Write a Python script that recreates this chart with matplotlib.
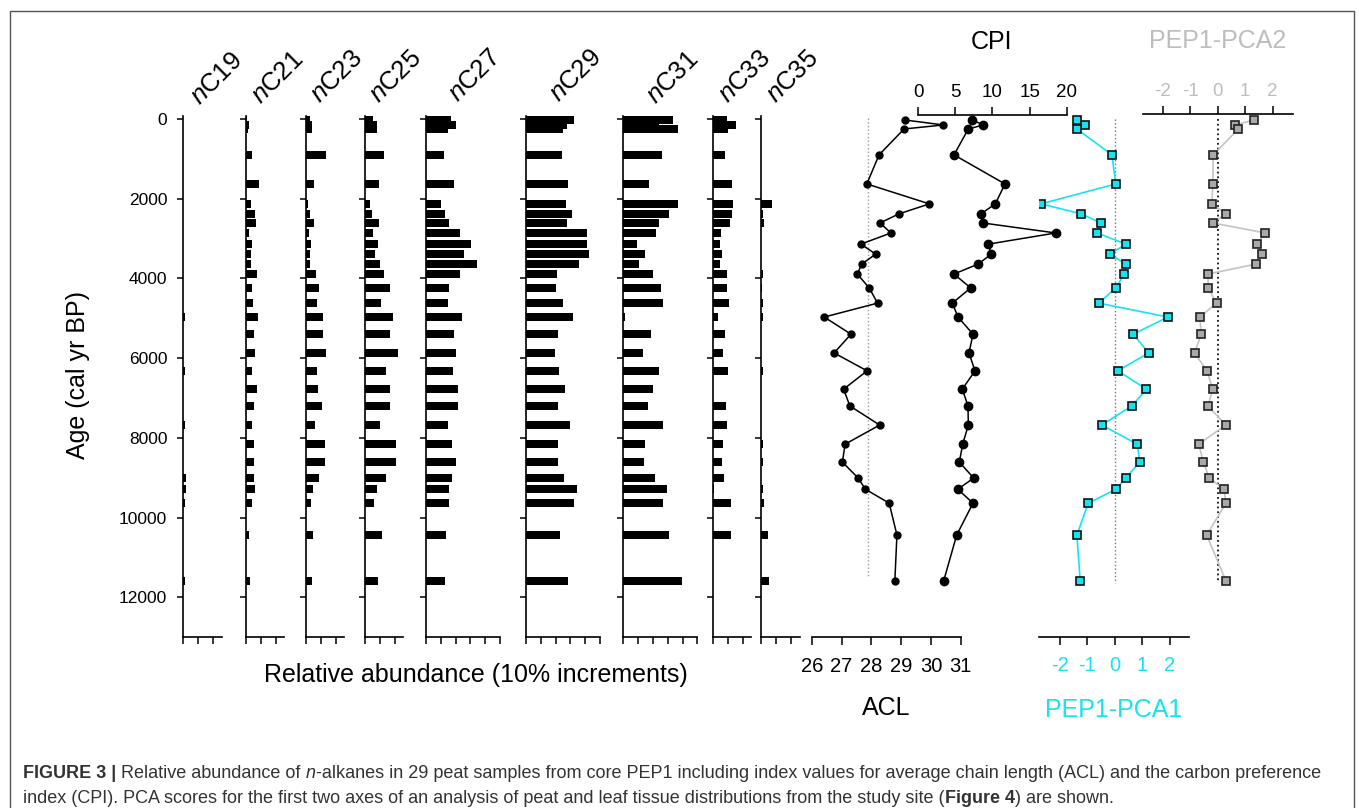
import matplotlib
matplotlib.use('Agg')
import matplotlib.pyplot as plt
from matplotlib import font_manager
from matplotlib.patches import Rectangle

plt.rcParams['font.family'] = 'Liberation Sans'
plt.rcParams['mathtext.fontset'] = 'custom'
plt.rcParams['mathtext.rm'] = 'Liberation Sans'
plt.rcParams['mathtext.it'] = 'Liberation Sans:italic'
plt.rcParams['axes.unicode_minus'] = False

# ---- data ----
age = [25, 150, 250, 900, 1630, 2130, 2380, 2610, 2860, 3140, 3390, 3640, 3890, 4240,
       4620, 4970, 5400, 5870, 6320, 6780, 7200, 7680, 8160, 8610, 9010, 9290, 9640,
       10440, 11590]

nC19 = [0, 0, 0, 0, 0, 0, 0, 0, 0, 0, 0, 0, 0, 0, 0, 1.2, 0, 0, 1.0, 0, 0, 1.0, 0, 0,
        1.5, 1.5, 1.0, 0, 1.0]
nC21 = [0.5, 2.0, 1.0, 4.0, 8.7, 3.0, 6.0, 6.7, 2.2, 4.0, 3.0, 3.0, 7.5, 3.8, 4.4, 7.8,
        5.5, 6.0, 4.2, 7.0, 5.5, 4.0, 5.5, 5.0, 5.0, 6.0, 3.8, 2.2, 2.7]
nC23 = [3.0, 4.0, 4.2, 13.8, 5.8, 1.5, 3.0, 5.8, 2.0, 3.8, 2.7, 3.0, 6.7, 8.7, 7.3, 11.8,
        11.3, 13.3, 7.8, 8.4, 10.7, 6.4, 12.9, 12.7, 8.7, 4.9, 3.8, 4.9, 4.2]
nC25 = [5.8, 8.0, 8.0, 12.9, 9.6, 3.8, 4.7, 9.3, 5.3, 8.7, 7.1, 10.0, 13.1, 16.7, 11.1,
        19.1, 17.1, 22.0, 14.4, 16.9, 16.9, 10.2, 21.1, 21.1, 14.2, 8.2, 6.2, 11.8, 8.9]
nC27 = [16.7, 20.0, 14.9, 12.2, 19.1, 9.8, 12.7, 15.3, 23.3, 30.4, 26.0, 34.4, 22.9, 15.3,
        15.1, 24.4, 19.1, 20.4, 18.4, 21.3, 21.3, 14.9, 17.6, 20.4, 17.8, 15.8, 15.6,
        13.6, 12.9]
nC29 = [32.2, 27.5, 25.2, 24.3, 28.6, 26.8, 30.9, 27.7, 41.4, 41.0, 42.3, 35.8, 20.9, 20.3,
        25.2, 31.8, 21.6, 19.6, 22.1, 26.4, 21.6, 30.0, 21.6, 21.6, 25.7, 34.2, 32.7,
        23.0, 28.6]
nC31 = [33.6, 23.9, 37.2, 26.4, 17.3, 36.7, 31.1, 24.1, 22.3, 9.0, 14.4, 10.4, 20.0, 25.5,
        26.8, 1.4, 18.7, 13.1, 23.9, 20.3, 16.4, 26.6, 14.9, 13.7, 21.6, 29.3, 26.6,
        30.6, 39.4]
nC33 = [9.3, 15.6, 10.4, 8.0, 13.1, 13.3, 13.1, 11.6, 5.3, 4.9, 6.0, 4.9, 9.3, 9.3, 10.9,
        3.6, 8.0, 6.7, 10.0, 0, 8.7, 9.3, 7.1, 6.4, 7.3, 1.1, 12.0, 12.0, 0]
nC35 = [0, 0, 0, 0, 0, 6.9, 1.3, 1.5, 0, 0, 0, 0, 0.9, 0.7, 0.9, 0.9, 0, 0, 0.9, 0, 0, 0,
        1.1, 0.9, 0, 0.9, 1.5, 4.4, 4.9]

acl = [29.13, 30.42, 29.10, 28.26, 27.85, 29.95, 28.93, 28.29, 28.66, 27.65, 28.15, 27.68,
       27.53, 27.93, 28.21, 26.42, 27.32, 26.75, 27.86, 27.07, 27.28, 28.28, 27.12, 27.03,
       27.56, 27.80, 28.60, 28.86, 28.79]
cpi = [7.3, 8.78, 6.76, 4.84, 11.69, 10.39, 8.47, 8.74, 18.51, 9.45, 9.85, 8.10, 4.84,
       7.08, 4.61, 5.38, 7.39, 6.85, 7.66, 5.95, 6.72, 6.76, 6.01, 5.55, 7.49, 5.34, 7.39,
       5.20, 3.45]
pca1 = [-1.37, -1.09, -1.37, -0.10, 0.04, -2.67, -1.21, -0.50, -0.64, 0.41, -0.18, 0.41,
        0.35, 0.04, -0.58, 1.93, 0.67, 1.23, 0.11, 1.15, 0.62, -0.47, 0.82, 0.91, 0.40,
        0.05, -0.96, -1.37, -1.25]
pca2 = [1.31, 0.64, 0.75, -0.16, -0.18, -0.21, 0.29, -0.17, 1.73, 1.43, 1.60, 1.40, -0.35,
        -0.35, -0.04, -0.65, -0.60, -0.84, -0.39, -0.18, -0.35, 0.29, -0.69, -0.52, -0.31,
        0.23, 0.30, -0.40, 0.30]

age_ticks = [0, 2000, 4000, 6000, 8000, 10000, 12000]
acl_ticks = [26, 27, 28, 29, 30, 31]
cpi_ticks = [0, 5, 10, 15, 20]
pca_ticks = [-2, -1, 0, 1, 2]

# ---- layout helpers (pixel coordinates) ----
W, H = 1359, 808
Y0, K = 119.0, 0.03985   # pixel row of age 0, pixels per year
CYAN = '#14e4f0'
GREY = '#bdbdbd'

fig = plt.figure(figsize=(W / 100, H / 100), dpi=100)


def make_ax(x0, x1, top_age=-350, bottom_age=13000):
    ytop = Y0 + top_age * K
    ybot = Y0 + bottom_age * K
    ax = fig.add_axes([x0 / W, 1 - ybot / H, (x1 - x0) / W, (ybot - ytop) / H])
    ax.set_ylim(bottom_age, top_age)
    ax.patch.set_visible(False)
    for s in ax.spines.values():
        s.set_visible(False)
        s.set_linewidth(1.2)
    ax.set_xticks([])
    ax.set_yticks([])
    return ax


def ftext(x, y, s, **kw):
    return fig.text(x / W, 1 - y / H, s, **kw)


# ---- n-alkane bar panels ----
bar_panels = [
    ('19', nC19, 183.3, 25.5, (217, 79)),
    ('21', nC21, 246.0, 25.5, (278, 78)),
    ('23', nC23, 305.7, 25.5, (337, 77)),
    ('25', nC25, 364.7, 25.5, (396, 77)),
    ('27', nC27, 426.0, 50, (475, 76)),
    ('29', nC29, 526.0, 50, (576, 76)),
    ('31', nC31, 623.3, 50, (673, 78)),
    ('33', nC33, 712.7, 25.5, (745, 77)),
    ('35', nC35, 761.3, 25.5, (793, 77)),
]

for name, vals, x0, xmax, (tx, ty) in bar_panels:
    px = 1.5 if xmax < 30 else 1.48
    ax = make_ax(x0, x0 + xmax * px, top_age=-75)
    ax.set_xlim(0, xmax)
    ax.barh(age, vals, height=190, color='black', linewidth=0)
    ax.spines['left'].set_visible(True)
    ax.spines['bottom'].set_visible(True)
    ax.set_yticks(age_ticks)
    ax.set_xticks(range(0, int(xmax) + 1, 10))
    ax.tick_params(axis='y', direction='out', length=4.5, width=1.1,
                   labelleft=(name == '19'), labelsize=12.5, pad=7)
    ax.tick_params(axis='x', direction='out', length=5, width=1.1, labelbottom=False)
    ftext(tx, ty, r'$\mathit{n}$C' + name, rotation=45, ha='center', va='center',
          fontsize=18.5, rotation_mode='anchor')

ftext(78, 375, 'Age (cal yr BP)', rotation=90, ha='center', va='center', fontsize=18)
ftext(476, 675, 'Relative abundance (10% increments)', ha='center', va='center', fontsize=18)

# ---- ACL (bottom axis) ----
ax_acl = make_ax(800, 1075)
ax_acl.set_xlim(25.607, 34.836)
ax_acl.spines['bottom'].set_visible(True)
ax_acl.spines['bottom'].set_bounds(26, 31)
ax_acl.set_xticks(acl_ticks)
ax_acl.tick_params(axis='x', direction='out', length=5.5, width=1.1, labelsize=14.5, pad=9)
ax_acl.plot([27.9, 27.9], [-30, 11500], color='#9a9a9a', ls=':', lw=1)
ax_acl.plot(acl, age, color='black', lw=1.1, marker='o', ms=5)
ftext(886, 708, 'ACL', ha='center', va='center', fontsize=18)

# ---- CPI (top axis) ----
ax_cpi = make_ax(800, 1075, top_age=-100)
ax_cpi.set_xlim(-15.86, 21.10)
ax_cpi.spines['top'].set_visible(True)
ax_cpi.spines['top'].set_bounds(0, 20)
ax_cpi.set_xticks(cpi_ticks)
ax_cpi.tick_params(axis='x', direction='out', length=5.5, width=1.1, labelsize=13.5,
                   top=True, labeltop=True, bottom=False, labelbottom=False, pad=4.5)
ax_cpi.plot(cpi, age, color='black', lw=1.1, marker='o', ms=6)
ftext(992, 42, 'CPI', ha='center', va='center', fontsize=18)

# ---- PEP1-PCA1 ----
ax_p1 = make_ax(1039.3, 1189.3)
ax_p1.set_xlim(-2.732, 2.703)
ax_p1.spines['bottom'].set_visible(True)
ax_p1.set_xticks(pca_ticks)
ax_p1.tick_params(axis='x', direction='out', length=5.5, width=1.1, labelsize=14.5,
                  labelcolor=CYAN, pad=8.5)
ax_p1.plot([0, 0], [0, 11650], color='#777777', ls=':', lw=1)
ax_p1.plot(pca1, age, color=CYAN, lw=1.2, marker='s', ms=5.5, mfc=CYAN, mec='#111111',
           mew=1.2)
ftext(1114, 710, 'PEP1-PCA1', ha='center', va='center', fontsize=18, color=CYAN)

# ---- PEP1-PCA2 ----
ax_p2 = make_ax(1143.3, 1292.7, top_age=-118)
ax_p2.set_xlim(-2.705, 2.727)
ax_p2.spines['top'].set_visible(True)
ax_p2.set_xticks(pca_ticks)
ax_p2.tick_params(axis='x', direction='out', length=5.5, width=1.1, labelsize=13.5,
                  labelcolor=GREY, top=True, labeltop=True, bottom=False,
                  labelbottom=False, pad=4.5)
ax_p2.plot([0, 0], [0, 11650], color='#111111', ls=':', lw=1.3)
ax_p2.plot(pca2, age, color='#c4c4c4', lw=1.2, marker='s', ms=5.5, mfc='#a9a9a9',
           mec='#222222', mew=1.2)
ftext(1218, 41, 'PEP1-PCA2', ha='center', va='center', fontsize=18, color=GREY)

# ---- frame and caption ----
fig.add_artist(Rectangle((10 / W, -0.1), (1354 - 10) / W, 1 - 11 / H + 0.1,
                         transform=fig.transFigure, fill=False, ec='#555555', lw=1))

names = {f.name for f in font_manager.fontManager.ttflist}
capfam = 'Liberation Sans Narrow' if 'Liberation Sans Narrow' in names else 'Liberation Sans'
capsize = 15.5 if capfam == 'Liberation Sans Narrow' else 13
renderer = fig.canvas.get_renderer()


def text_width(s, props):
    w1, _, _ = renderer.get_text_width_height_descent('|' + s + '|', props, ismath=False)
    w2, _, _ = renderer.get_text_width_height_descent('||', props, ismath=False)
    return w1 - w2


def rich_line(x, y, pieces):
    for s, weight, style in pieces:
        props = font_manager.FontProperties(family=capfam, size=capsize, weight=weight,
                                            style=style)
        fig.text(x / W, 1 - y / H, s, fontproperties=props, color='#333333',
                 ha='left', va='baseline')
        x += text_width(s, props)


rich_line(23, 778, [
    ('FIGURE 3 |', 'bold', 'normal'),
    (' Relative abundance of ', 'normal', 'normal'),
    ('n', 'normal', 'italic'),
    ('-alkanes in 29 peat samples from core PEP1 including index values for average '
     'chain length (ACL) and the carbon preference', 'normal', 'normal'),
])
rich_line(23, 803, [
    ('index (CPI). PCA scores for the first two axes of an analysis of peat and leaf '
     'tissue distributions from the study site (', 'normal', 'normal'),
    ('Figure 4', 'bold', 'normal'),
    (') are shown.', 'normal', 'normal'),
])

fig.savefig('out.png', dpi=100)
